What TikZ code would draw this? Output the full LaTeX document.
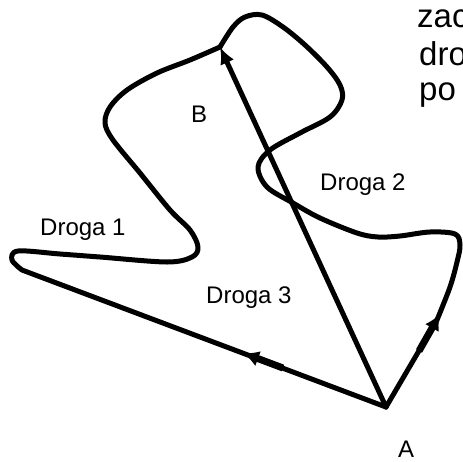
\documentclass[tikz,border=0pt]{standalone}
\usepackage{fontspec}
\setmainfont{Liberation Sans}
\usetikzlibrary{arrows.meta}

\tikzset{
  road/.style={line width=5pt, line join=round, line cap=round},
  midarrow/.style={line width=7pt, -{Latex[length=16pt,width=16pt]}},
  lbl/.style={inner sep=0pt, anchor=base west, font=\fontsize{24}{29}\selectfont},
  note/.style={inner sep=0pt, anchor=base west, font=\fontsize{33}{38}\selectfont}
}

\begin{document}
\begin{tikzpicture}[x=1pt,y=-1pt]
\useasboundingbox (0,0) rectangle (463,461);
\coordinate (A) at (386,407);
\coordinate (B) at (220,47);

% Droga 1
\draw[road] (A) -- (22,270) -- plot[smooth,tension=0.55] coordinates {(22,270) (12,260) (18,251) (60,254) (100,257) (167,262) (192,257) (198,247) (190,230) (170,210) (140,173) (113,140) (105,123) (110,107) (127,90) (157,73) (190,60) (B)};
\draw[midarrow] (283,368) -- (243,353);

% Droga 2
\draw[road] (A) -- (437,320) -- plot[smooth,tension=0.55] coordinates {(437,320) (450,287) (457,262) (460,245) (455,234) (430,232) (400,236) (378,237) (357,233) (320,218) (293,203) (267,187) (258,167) (270,150) (300,133) (330,117) (342,100) (340,85) (327,67) (305,45) (283,27) (262,15) (245,17) (233,27) (B)};
\draw[midarrow] (419,351) -- (440,314);

% Droga 3
\draw[road, -{Latex[length=17pt,width=15pt]}] (A) -- (B);

% labels
\node[lbl] (A label) at (398,457) {A};
\node[lbl] (B label) at (191,122) {B};
\node[lbl] (road1) at (40,235) {Droga 1};
\node[lbl] (road2) at (320,190) {Droga 2};
\node[lbl] (road3) at (206,303) {Droga 3};

% text cut at the right edge
\node[note] (line1) at (417,27) {zac};
\node[note] (line2) at (419,65) {dro};
\node[note] (line3) at (419,100) {po};
\end{tikzpicture}
\end{document}
